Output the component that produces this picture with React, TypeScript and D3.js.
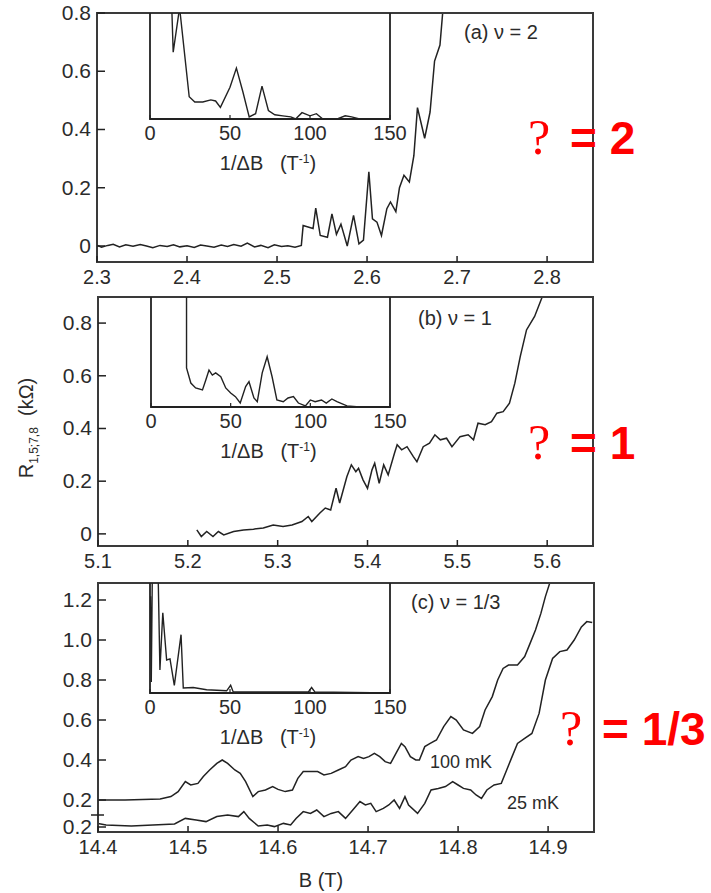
import React from 'react';
import * as d3 from 'd3';

// (a) nu = 2 : R vs B
const aField = [
  2.300, 2.305, 2.312, 2.318, 2.325, 2.332, 2.340, 2.348, 2.355, 2.362, 2.370, 2.378, 2.385, 2.392,
  2.400, 2.408, 2.415, 2.422, 2.430, 2.438, 2.445, 2.452, 2.460, 2.467, 2.475, 2.482, 2.490, 2.497,
  2.505, 2.512, 2.520, 2.527, 2.529, 2.540, 2.543, 2.548, 2.556, 2.561, 2.566, 2.571, 2.578, 2.585,
  2.591, 2.596, 2.602, 2.606, 2.611, 2.616, 2.622, 2.626, 2.632, 2.636, 2.641, 2.647, 2.652, 2.656,
  2.664, 2.670, 2.675, 2.681, 2.684, 2.690,
];
const aRes = [
  0.003, -0.004, 0.002, 0.006, -0.003, 0.004, -0.001, 0.005, 0.000, -0.006, 0.002, -0.002, 0.004, -0.003,
  0.001, -0.005, 0.003, 0.000, -0.004, 0.003, -0.002, 0.005, -0.001, 0.010, -0.003, 0.002, -0.006, 0.004,
  -0.002, 0.001, -0.004, 0.002, 0.070, 0.060, 0.130, 0.036, 0.030, 0.110, 0.040, 0.075, 0.000, 0.105,
  0.007, 0.020, 0.255, 0.093, 0.082, 0.036, 0.128, 0.151, 0.118, 0.200, 0.243, 0.220, 0.310, 0.475,
  0.370, 0.460, 0.635, 0.690, 0.800, 0.950,
];
// (a) inset: spectrum vs 1/dB (arb. units)
const aInvB = [13.5, 14.5, 18.5, 24.5, 28, 33, 38, 41, 44, 50, 54, 58, 62, 66, 70, 74, 78, 83, 88, 91, 95, 100, 104, 108, 112, 117, 122, 126, 131, 140, 150];
const aAmp = [1.1, 0.63, 1.05, 0.21, 0.16, 0.16, 0.18, 0.17, 0.11, 0.3, 0.48, 0.26, 0.02, 0.05, 0.31, 0.08, 0.04, 0.03, 0.02, 0.0, 0.06, 0.03, 0.05, 0.0, 0.0, 0.0, 0.03, 0.02, 0.0, 0.0, 0.0];

// (b) nu = 1
const bField = [
  5.210, 5.215, 5.221, 5.228, 5.234, 5.240, 5.251, 5.262, 5.273, 5.284, 5.295, 5.306, 5.316, 5.327,
  5.334, 5.338, 5.347, 5.353, 5.359, 5.365, 5.369, 5.377, 5.382, 5.387, 5.390, 5.395, 5.400, 5.405,
  5.408, 5.413, 5.418, 5.423, 5.430, 5.433, 5.438, 5.444, 5.451, 5.455, 5.462, 5.469, 5.475, 5.481,
  5.488, 5.494, 5.503, 5.512, 5.518, 5.523, 5.531, 5.538, 5.544, 5.551, 5.558, 5.564, 5.570, 5.577,
  5.586, 5.594, 5.600,
];
const bRes = [
  0.015, -0.010, 0.009, -0.010, 0.009, -0.004, 0.009, 0.015, 0.018, 0.022, 0.034, 0.028, 0.034, 0.047,
  0.066, 0.047, 0.079, 0.098, 0.091, 0.173, 0.117, 0.217, 0.262, 0.236, 0.249, 0.205, 0.173, 0.243,
  0.268, 0.192, 0.262, 0.224, 0.306, 0.338, 0.319, 0.331, 0.293, 0.274, 0.331, 0.344, 0.376, 0.357,
  0.363, 0.331, 0.369, 0.376, 0.357, 0.420, 0.414, 0.426, 0.458, 0.464, 0.496, 0.572, 0.673, 0.774,
  0.825, 0.895, 0.950,
];
const bInvB = [22.3, 22.3, 25, 28, 32.3, 34.4, 36.4, 38.5, 40.6, 43.8, 46.9, 50, 53, 56, 59.4, 61.5, 64.6, 66.7, 69.8, 72.9, 76, 79, 83, 86, 89.4, 92.5, 96.9, 100, 103, 107, 110, 113.5, 116.7, 123, 129, 139.6, 149];
const bAmp = [1.1, 0.355, 0.218, 0.173, 0.155, 0.245, 0.336, 0.29, 0.31, 0.275, 0.173, 0.127, 0.094, 0.036, 0.185, 0.23, 0.082, 0.048, 0.31, 0.457, 0.275, 0.064, 0.048, 0.082, 0.094, 0.036, 0.01, 0.064, 0.048, 0.064, 0.036, 0.073, 0.048, 0.01, 0.003, 0.003, 0.003];

// (c) nu = 1/3, two temperatures
const c100Field = [
  14.400, 14.430, 14.469, 14.481, 14.489, 14.497, 14.503, 14.511, 14.517, 14.524, 14.532, 14.538, 14.544,
  14.552, 14.558, 14.564, 14.572, 14.578, 14.586, 14.594, 14.600, 14.608, 14.616, 14.622, 14.628, 14.636,
  14.644, 14.651, 14.659, 14.667, 14.675, 14.681, 14.689, 14.695, 14.701, 14.707, 14.713, 14.719, 14.725,
  14.731, 14.737, 14.741, 14.747, 14.753, 14.757, 14.763, 14.769, 14.776, 14.784, 14.792, 14.798, 14.806,
  14.816, 14.824, 14.830, 14.838, 14.844, 14.850, 14.856, 14.866, 14.874, 14.880, 14.886, 14.892, 14.897,
  14.902, 14.906,
];
const c100Res = [
  0.200, 0.200, 0.205, 0.217, 0.242, 0.292, 0.275, 0.283, 0.317, 0.350, 0.383, 0.400, 0.383,
  0.350, 0.333, 0.292, 0.217, 0.242, 0.250, 0.267, 0.253, 0.242, 0.250, 0.308, 0.342, 0.342,
  0.342, 0.325, 0.333, 0.350, 0.367, 0.400, 0.417, 0.408, 0.417, 0.433, 0.417, 0.392, 0.383,
  0.433, 0.483, 0.467, 0.417, 0.400, 0.400, 0.467, 0.483, 0.500, 0.567, 0.617, 0.600, 0.550,
  0.533, 0.567, 0.650, 0.717, 0.800, 0.858, 0.875, 0.875, 0.917, 0.983, 1.050, 1.133, 1.217,
  1.287, 1.340,
];
const c25Field = [
  14.400, 14.409, 14.437, 14.461, 14.485, 14.497, 14.509, 14.520, 14.532, 14.544, 14.556, 14.562, 14.568,
  14.578, 14.588, 14.596, 14.606, 14.614, 14.620, 14.628, 14.636, 14.643, 14.651, 14.659, 14.667, 14.675,
  14.683, 14.691, 14.697, 14.703, 14.709, 14.717, 14.723, 14.729, 14.735, 14.741, 14.745, 14.755, 14.763,
  14.770, 14.778, 14.786, 14.794, 14.800, 14.806, 14.814, 14.820, 14.826, 14.832, 14.840, 14.848, 14.854,
  14.860, 14.866, 14.874, 14.882, 14.890, 14.897, 14.905, 14.913, 14.921, 14.929, 14.937, 14.943, 14.949,
];
const c25Res = [
  0.218, 0.210, 0.205, 0.210, 0.215, 0.243, 0.235, 0.227, 0.252, 0.260, 0.252, 0.277, 0.243,
  0.205, 0.210, 0.202, 0.218, 0.210, 0.243, 0.277, 0.268, 0.285, 0.252, 0.268, 0.277, 0.243,
  0.285, 0.327, 0.310, 0.318, 0.277, 0.293, 0.310, 0.335, 0.293, 0.352, 0.310, 0.268, 0.318,
  0.385, 0.393, 0.402, 0.427, 0.410, 0.393, 0.385, 0.360, 0.343, 0.385, 0.410, 0.418, 0.485,
  0.552, 0.618, 0.643, 0.668, 0.768, 0.935, 1.043, 1.077, 1.085, 1.135, 1.200, 1.227, 1.222,
];
const cInvB = [0.3, 0.8, 1.6, 4.8, 6.2, 8, 10.4, 12.5, 15.2, 19.4, 20.8, 27, 35.4, 47.9, 50.4, 52, 99, 101, 103, 150];
const cAmp = [0.88, 0.1, 1.3, 1.3, 0.21, 0.73, 0.3, 0.31, 0.07, 0.53, 0.045, 0.05, 0.03, 0.02, 0.07, 0.01, 0.01, 0.05, 0.01, 0.0];

const aXTicks = [2.3, 2.4, 2.5, 2.6, 2.7, 2.8];
const aYTicks = ['0', '0.2', '0.4', '0.6', '0.8'];
const bXTicks = [5.1, 5.2, 5.3, 5.4, 5.5, 5.6];
const bYTicks = ['0', '0.2', '0.4', '0.6', '0.8'];
const cXTicks = [14.4, 14.5, 14.6, 14.7, 14.8, 14.9];
const cYTicks = ['0.2', '0.4', '0.6', '0.8', '1.0', '1.2'];
const insetTicks = [0, 50, 100, 150];

const FONT = '"Liberation Sans", Arial, sans-serif';
const INK = '#222';
const TXT = '#2b2b2b';

type Trace = { xs: number[]; ys: number[]; shift?: number };

function Inset({ id, left, right, top, bottom, xs, ys }: any) {
  const x = d3.scaleLinear().domain([0, 150]).range([left, right]);
  const y = d3.scaleLinear().domain([0, 1]).range([bottom, top]);
  const line = d3.line<number>().x((d, i) => x(xs[i])).y((d) => y(d));
  return (
    <g>
      <clipPath id={id}>
        <rect x={left} y={top} width={right - left} height={bottom - top} />
      </clipPath>
      <path d={line(ys) || ''} fill="none" stroke={INK} strokeWidth={1.4} clipPath={`url(#${id})`} />
      <path d={`M${left},${top}V${bottom}H${right}V${top}`} fill="none" stroke={INK} strokeWidth={1.8} />
      {insetTicks.map((t) => (
        <g key={t}>
          <line x1={x(t)} x2={x(t)} y1={bottom} y2={bottom - 4} stroke={INK} strokeWidth={1.2} />
          <text x={x(t)} y={bottom + 21} textAnchor="middle" fontSize={20} fill={TXT}>{t}</text>
        </g>
      ))}
      <text x={(left + right) / 2 - 2} y={bottom + 51} textAnchor="middle" fontSize={20} fill={TXT}>
        1/ΔB{'\u00a0\u00a0\u00a0'}(T<tspan dy={-7} fontSize={12}>-1</tspan><tspan dy={7}>)</tspan>
      </text>
    </g>
  );
}

function Panel({ id, box, xDom, yDom, xTicks, yTicks, traces, children }: any) {
  const x = d3.scaleLinear().domain(xDom).range([box.l, box.r]);
  const y = d3.scaleLinear().domain(yDom).range([box.b, box.t]);
  return (
    <g>
      <clipPath id={id}>
        <rect x={box.l} y={box.t} width={box.r - box.l} height={box.b - box.t} />
      </clipPath>
      {traces.map((tr: Trace, k: number) => {
        const line = d3.line<number>().x((d, i) => x(tr.xs[i])).y((d) => y(d) + (tr.shift || 0));
        return <path key={k} d={line(tr.ys) || ''} fill="none" stroke={INK} strokeWidth={1.5} clipPath={`url(#${id})`} />;
      })}
      <rect x={box.l} y={box.t} width={box.r - box.l} height={box.b - box.t} fill="none" stroke="#3a3a3a" strokeWidth={2} />
      {xTicks.map((t: number) => (
        <g key={t}>
          <line x1={x(t)} x2={x(t)} y1={box.b} y2={box.b - 6} stroke={INK} strokeWidth={1.5} />
          <text x={x(t)} y={box.b + 22} textAnchor="middle" fontSize={20} fill={TXT}>{t.toFixed(1)}</text>
        </g>
      ))}
      {yTicks.map((t: string) => (
        <g key={t}>
          <line x1={box.l} x2={box.l + 8} y1={y(+t)} y2={y(+t)} stroke={INK} strokeWidth={1.5} />
          <text x={box.l - 6} y={y(+t) + 7} textAnchor="end" fontSize={21} fill={TXT}>{t}</text>
        </g>
      ))}
      {children}
    </g>
  );
}

function Red({ x, y, rest }: { x: number; y: number; rest: string }) {
  return (
    <g fill="#f00">
      <text x={x} y={y} fontFamily='"Liberation Serif", "Times New Roman", serif' fontSize={50} textAnchor="middle">?</text>
      <text x={x + 31} y={y} fontFamily={FONT} fontWeight="bold" fontSize={46}>{rest}</text>
    </g>
  );
}

export default function App() {
  const boxA = { l: 97, r: 593, t: 13, b: 262 };
  const boxB = { l: 98, r: 593, t: 297, b: 546 };
  const boxC = { l: 98, r: 594, t: 583, b: 832 };
  // lower 25 mK trace is drawn against its own offset axis (0.2 at 827 instead of 800)
  const cShift = 27;
  return (
    <svg width={711} height={893} style={{ position: 'absolute', left: 0, top: 0, background: '#fff' }} fontFamily={FONT}>
      <Panel id="ca" box={boxA} xDom={[2.3, 2.851]} yDom={[-0.055, 0.8]} xTicks={aXTicks} yTicks={aYTicks}
        traces={[{ xs: aField, ys: aRes }]}>
        <Inset id="ia" left={150} right={390} top={13} bottom={119} xs={aInvB} ys={aAmp} />
        <text x={464} y={39} fontSize={20} fill={TXT}>(a) ν = 2</text>
      </Panel>
      <Panel id="cb" box={boxB} xDom={[5.1, 5.651]} yDom={[-0.046, 0.899]} xTicks={bXTicks} yTicks={bYTicks}
        traces={[{ xs: bField, ys: bRes }]}>
        <Inset id="ib" left={151} right={390} top={297} bottom={407} xs={bInvB} ys={bAmp} />
        <text x={418} y={325} fontSize={20} fill={TXT}>(b) ν = 1</text>
      </Panel>
      <Panel id="cc" box={boxC} xDom={[14.4, 14.951]} yDom={[0.04, 1.285]} xTicks={cXTicks} yTicks={cYTicks}
        traces={[{ xs: c100Field, ys: c100Res }, { xs: c25Field, ys: c25Res, shift: cShift }]}>
        <Inset id="ic" left={150} right={390} top={583} bottom={693} xs={cInvB} ys={cAmp} />
        <text x={411} y={609} fontSize={20} fill={TXT}>(c) ν = 1/3</text>
        <text x={430} y={768} fontSize={18} fill={TXT}>100 mK</text>
        <text x={507} y={809} fontSize={18} fill={TXT}>25 mK</text>
        <line x1={91} x2={104} y1={815} y2={815} stroke={INK} strokeWidth={1.5} />
        <line x1={98} x2={106} y1={827} y2={827} stroke={INK} strokeWidth={1.5} />
        <text x={92} y={834} textAnchor="end" fontSize={21} fill={TXT}>0.2</text>
      </Panel>
      <text x={321} y={887} textAnchor="middle" fontSize={20} fill={TXT}>B (T)</text>
      <text transform="translate(33,428) rotate(-90)" textAnchor="middle" fontSize={20} fill={TXT}>
        R<tspan dy={5} fontSize={12}>1,5;7,8</tspan><tspan dy={-5}>{'\u00a0\u00a0'}(kΩ)</tspan>
      </text>
      <Red x={539} y={154} rest="= 2" />
      <Red x={539} y={459} rest="= 1" />
      <Red x={571} y={745} rest="= 1/3" />
    </svg>
  );
}
